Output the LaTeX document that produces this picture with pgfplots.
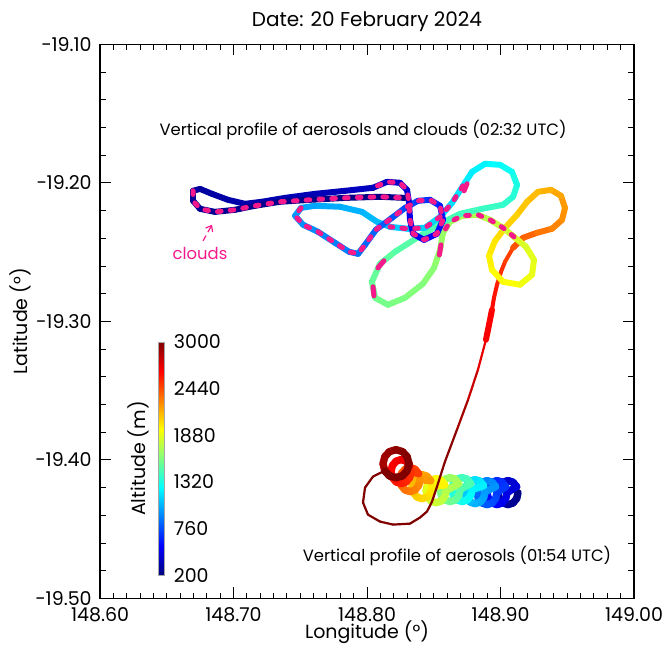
\documentclass[border=0pt]{standalone}
\usepackage{fontspec}
\setmainfont{Poppins}
\usepackage{pgfplots}
\pgfplotsset{compat=1.18}
\usetikzlibrary{arrows.meta}
\definecolor{cloudpink}{RGB}{245,25,140}
\begin{document}
\begin{tikzpicture}[font=\fontsize{9.5}{11}\selectfont]
\begin{axis}[
  scale only axis, width=267pt, height=277pt,
  xmin=148.6, xmax=149, ymin=-19.5, ymax=-19.1,
  xtick={148.6,148.7,148.8,148.9,149.0},
  xticklabels={148.60,148.70,148.80,148.90,149.00},
  ytick={-19.5,-19.4,-19.3,-19.2,-19.1},
  yticklabels={−19.50,−19.40,−19.30,−19.20,−19.10},
  xticklabel style={inner sep=0pt, anchor=center, yshift=-8.3pt},
  yticklabel style={inner sep=0pt, anchor=east, xshift=-4pt},
  minor x tick num=9, minor y tick num=4,
  tick align=inside, major tick length=5.5pt, minor tick length=2.8pt,
  tick style={line width=0.5pt, black},
  axis line style={line width=0.7pt},
  title={Date: 20 February 2024},
  every axis title/.style={at={(axis description cs:0.5,1.0406)}, anchor=center, inner sep=0pt, font=\fontsize{10}{12}\selectfont},
  xlabel={Longitude (°)}, ylabel={Latitude (°)},
  every axis x label/.style={at={(axis description cs:0.5,-0.0610)}, anchor=center, inner sep=0pt},
  every axis y label/.style={at={(axis description cs:-0.1498,0.5)}, rotate=90, anchor=center, inner sep=0pt},
  colormap/jet, point meta min=200, point meta max=3000,
  colorbar,
  colorbar style={
    scale only axis,
    at={(parent axis.south west)}, anchor=south west, xshift=20.7pt, yshift=11.7pt,
    width=3pt, height=116.5pt,
    ytick={200,760,1320,1880,2440,3000},
    yticklabels={200,760,1320,1880,2440,3000},
    yticklabel pos=right,
    yticklabel style={inner sep=0pt, anchor=west, xshift=4.5pt},
    major tick length=0pt,
    axis line style={gray!70, line width=0.3pt},
    every axis y label/.style={at={(axis description cs:-1.5,0.5)}, rotate=90, anchor=south, inner sep=0pt},
    ylabel={Altitude (m)},
  },
]
\coordinate (bbA) at (axis description cs:-0.1873,1.0802);
\coordinate (bbB) at (axis description cs:1.0599,-0.0884);
% spiral (vertical profile of aerosols, 01:54 UTC)
\addplot[mesh, point meta=explicit, line width=3.7pt, line cap=round, line join=round]
 table[x=x, y=y, meta=a] {
x y a
148.9131 -19.4236 200
148.9121 -19.4279 221
148.9094 -19.4311 243
148.9056 -19.4323 264
148.9019 -19.4311 285
148.8991 -19.4279 307
148.8981 -19.4236 328
148.8991 -19.4193 349
148.9019 -19.4161 370
148.9056 -19.4149 392
148.9094 -19.4161 413
148.9121 -19.4193 434
148.9049 -19.4236 456
148.9039 -19.4279 477
148.9012 -19.4311 499
148.8974 -19.4323 520
148.8937 -19.4311 541
148.8909 -19.4279 563
148.8899 -19.4236 584
148.8909 -19.4193 605
148.8937 -19.4161 626
148.8974 -19.4149 648
148.9012 -19.4161 669
148.9039 -19.4193 690
148.8974 -19.4236 711
148.8964 -19.4279 732
148.8937 -19.4311 754
148.8899 -19.4323 775
148.8862 -19.4311 796
148.8834 -19.4279 818
148.8824 -19.4236 839
148.8834 -19.4193 860
148.8862 -19.4161 881
148.8899 -19.4149 903
148.8937 -19.4161 924
148.8964 -19.4193 945
148.8884 -19.4229 967
148.8874 -19.4272 988
148.8847 -19.4304 1010
148.8809 -19.4316 1031
148.8772 -19.4304 1052
148.8744 -19.4272 1074
148.8734 -19.4229 1095
148.8744 -19.4186 1116
148.8772 -19.4154 1137
148.8809 -19.4142 1159
148.8847 -19.4154 1180
148.8874 -19.4186 1201
148.8787 -19.4214 1222
148.8777 -19.4257 1243
148.8750 -19.4289 1265
148.8712 -19.4301 1286
148.8675 -19.4289 1307
148.8647 -19.4257 1329
148.8637 -19.4214 1350
148.8647 -19.4171 1371
148.8675 -19.4139 1392
148.8712 -19.4127 1414
148.8750 -19.4139 1435
148.8777 -19.4171 1456
148.8697 -19.4214 1478
148.8687 -19.4257 1499
148.8660 -19.4289 1521
148.8622 -19.4301 1542
148.8585 -19.4289 1563
148.8557 -19.4257 1585
148.8547 -19.4214 1606
148.8557 -19.4171 1627
148.8585 -19.4139 1648
148.8622 -19.4127 1670
148.8660 -19.4139 1691
148.8687 -19.4171 1712
148.8592 -19.4222 1734
148.8582 -19.4265 1755
148.8555 -19.4297 1777
148.8517 -19.4309 1798
148.8480 -19.4297 1819
148.8452 -19.4265 1841
148.8442 -19.4222 1862
148.8452 -19.4179 1883
148.8480 -19.4147 1904
148.8517 -19.4135 1926
148.8555 -19.4147 1947
148.8582 -19.4179 1968
148.8487 -19.4193 1989
148.8477 -19.4236 2010
148.8450 -19.4268 2032
148.8412 -19.4280 2053
148.8375 -19.4268 2074
148.8347 -19.4236 2096
148.8337 -19.4193 2117
148.8347 -19.4150 2138
148.8375 -19.4118 2159
148.8412 -19.4106 2181
148.8450 -19.4118 2202
148.8477 -19.4150 2223
148.8397 -19.4142 2245
148.8387 -19.4185 2266
148.8360 -19.4217 2288
148.8322 -19.4229 2309
148.8285 -19.4217 2330
148.8257 -19.4185 2352
148.8247 -19.4142 2373
148.8257 -19.4099 2394
148.8285 -19.4067 2415
148.8322 -19.4055 2437
148.8360 -19.4067 2458
148.8387 -19.4099 2479
148.8330 -19.4084 2500
148.8320 -19.4127 2521
148.8293 -19.4159 2543
148.8255 -19.4171 2564
148.8218 -19.4159 2585
148.8190 -19.4127 2607
148.8180 -19.4084 2628
148.8190 -19.4041 2649
148.8218 -19.4009 2670
148.8255 -19.3997 2692
148.8293 -19.4009 2713
148.8320 -19.4041 2734
148.8314 -19.4027 2756
148.8301 -19.4078 2777
148.8266 -19.4115 2799
148.8217 -19.4128 2820
148.8168 -19.4115 2841
148.8133 -19.4078 2863
148.8120 -19.4027 2884
148.8133 -19.3977 2905
148.8168 -19.3940 2926
148.8217 -19.3926 2948
148.8266 -19.3940 2969
148.8301 -19.3977 2990
148.8314 -19.4027 3000
148.8301 -19.4078 3000
148.8266 -19.4115 3000
148.8217 -19.4128 3000
148.8168 -19.4115 3000
148.8133 -19.4078 3000
};
% transit
\addplot[mesh, point meta=explicit, line width=1.1pt, line cap=round, line join=round]
 table[x=x, y=y, meta=a] {
x y a
148.8133 -19.4078 3000
148.8045 -19.4120 3000
148.7985 -19.4200 3000
148.7970 -19.4308 3000
148.8007 -19.4395 3000
148.8097 -19.4445 3000
148.8195 -19.4467 3000
148.8322 -19.4460 3000
148.8397 -19.4416 3000
148.8449 -19.4373 3000
148.8487 -19.4301 3000
148.8524 -19.4193 3000
148.8584 -19.4012 2990
148.8674 -19.3781 2950
148.8757 -19.3565 2850
148.8831 -19.3349 2750
148.8891 -19.3132 2680
};
\addplot[mesh, point meta=explicit, line width=3pt, line cap=round]
 table[x=x, y=y, meta=a] {
x y a
148.8891 -19.3132 2680
148.8914 -19.3024 2660
148.8936 -19.2916 2640
};
\addplot[mesh, point meta=explicit, line width=2pt, line cap=round, line join=round]
 table[x=x, y=y, meta=a] {
x y a
148.8936 -19.2916 2640
148.8951 -19.2829 2610
148.8974 -19.2735 2580
148.9004 -19.2641 2540
148.9034 -19.2569 2500
148.9094 -19.2468 2450
};
% descent (vertical profile of aerosols and clouds, 02:32 UTC)
\addplot[mesh, point meta=explicit, line width=3pt, line cap=round, line join=round]
 table[x=x, y=y, meta=a] {
x y a
148.9094 -19.2468 2450
148.9169 -19.2396 2400
148.9273 -19.2360 2350
148.9386 -19.2331 2300
148.9461 -19.2266 2270
148.9483 -19.2180 2240
148.9453 -19.2093 2210
148.9378 -19.2050 2180
148.9281 -19.2064 2150
148.9199 -19.2136 2120
148.9124 -19.2230 2090
148.9034 -19.2324 2060
148.8959 -19.2418 2030
148.8914 -19.2526 2000
148.8936 -19.2627 1970
148.9019 -19.2714 1950
148.9146 -19.2735 1920
148.9236 -19.2663 1900
148.9251 -19.2555 1880
148.9191 -19.2461 1860
148.9101 -19.2389 1830
148.9019 -19.2324 1800
148.8921 -19.2266 1770
148.8831 -19.2230 1740
148.8712 -19.2237 1720
148.8622 -19.2281 1700
148.8569 -19.2360 1680
148.8547 -19.2483 1660
148.8502 -19.2613 1640
148.8419 -19.2728 1620
148.8285 -19.2829 1600
148.8157 -19.2880 1580
148.8060 -19.2829 1560
148.8037 -19.2714 1540
148.8097 -19.2584 1520
148.8210 -19.2497 1500
148.8375 -19.2396 1480
148.8547 -19.2295 1460
148.8697 -19.2223 1440
148.8861 -19.2187 1420
148.9019 -19.2158 1400
148.9094 -19.2100 1370
148.9124 -19.2014 1340
148.9086 -19.1920 1300
148.8996 -19.1869 1260
148.8884 -19.1862 1230
148.8787 -19.1920 1210
148.8719 -19.2021 1190
148.8637 -19.2144 1170
148.8547 -19.2245 1150
148.8434 -19.2324 1130
148.8307 -19.2331 1110
148.8172 -19.2317 1090
148.8075 -19.2281 1070
148.7963 -19.2209 1050
148.7798 -19.2172 1030
148.7610 -19.2165 1010
148.7506 -19.2180 990
148.7461 -19.2237 970
148.7521 -19.2302 950
148.7633 -19.2353 930
148.7760 -19.2432 910
148.7865 -19.2497 890
148.7933 -19.2512 870
148.7985 -19.2447 850
148.8067 -19.2338 820
148.8187 -19.2252 790
148.8285 -19.2180 760
148.8382 -19.2129 720
148.8472 -19.2122 680
148.8547 -19.2165 640
148.8569 -19.2266 600
148.8524 -19.2367 560
148.8427 -19.2411 530
148.8345 -19.2367 500
148.8322 -19.2266 480
148.8315 -19.2144 460
148.8300 -19.2050 440
148.8247 -19.1999 420
148.8150 -19.1992 400
148.8045 -19.2035 380
148.7835 -19.2057 360
148.7610 -19.2079 350
148.7386 -19.2108 340
148.7213 -19.2136 330
148.7086 -19.2151 320
148.6959 -19.2122 310
148.6839 -19.2079 300
148.6749 -19.2043 290
148.6697 -19.2057 280
148.6697 -19.2129 270
148.6749 -19.2187 260
148.6861 -19.2209 250
148.7011 -19.2194 240
148.7161 -19.2165 235
148.7348 -19.2136 230
148.7573 -19.2122 225
148.7835 -19.2108 220
148.8097 -19.2100 215
148.8285 -19.2108 210
};
% clouds (dashed overlay)
\pgfplotsset{cloudline/.style={cloudpink, line width=2.5pt, line cap=round, line join=round, dash pattern=on 1.8pt off 4.6pt}}
\addplot[cloudline] coordinates {
(148.9101,-19.2389) (148.9019,-19.2324) (148.8921,-19.2266) (148.8831,-19.2230)
(148.8712,-19.2237) (148.8622,-19.2281) (148.8569,-19.2360)};
\addplot[cloudpink, line width=2.5pt, line cap=round] coordinates {(148.8554,-19.2447) (148.8542,-19.2520)};
\addplot[cloudpink, line width=2.5pt, line cap=round] coordinates {(148.8127,-19.2562) (148.8082,-19.2613)};
\addplot[cloudpink, line width=2.5pt, line cap=round] coordinates {(148.8045,-19.2750) (148.8052,-19.2815)};
\addplot[cloudpink, line width=2.5pt, line cap=round] coordinates {(148.8749,-19.2006) (148.8727,-19.2057)};
\addplot[cloudline] coordinates {
(148.8719,-19.2021) (148.8637,-19.2144) (148.8547,-19.2245) (148.8434,-19.2324)
(148.8307,-19.2331) (148.8172,-19.2317)};
\addplot[cloudline] coordinates {
(148.7506,-19.2180) (148.7461,-19.2237) (148.7521,-19.2302) (148.7633,-19.2353)
(148.7760,-19.2432) (148.7865,-19.2497) (148.7933,-19.2512) (148.7985,-19.2447)
(148.8067,-19.2338) (148.8187,-19.2252) (148.8285,-19.2180) (148.8382,-19.2129)
(148.8472,-19.2122) (148.8547,-19.2165) (148.8569,-19.2266) (148.8524,-19.2367)
(148.8427,-19.2411) (148.8345,-19.2367) (148.8322,-19.2266) (148.8315,-19.2144)
(148.8300,-19.2050) (148.8247,-19.1999) (148.8150,-19.1992) (148.8045,-19.2035)};
\addplot[cloudline] coordinates {
(148.6697,-19.2057) (148.6697,-19.2129) (148.6749,-19.2187) (148.6861,-19.2209)
(148.7011,-19.2194) (148.7161,-19.2165) (148.7348,-19.2136) (148.7573,-19.2122)
(148.7835,-19.2108) (148.8097,-19.2100) (148.8285,-19.2108)};
% annotations
\node[font=\fontsize{8.2}{10}\selectfont] at (axis cs:148.797,-19.1617) {Vertical profile of aerosols and clouds (02:32 UTC)};
\node[font=\fontsize{8.2}{10}\selectfont] at (axis cs:148.8674,-19.4690) {Vertical profile of aerosols (01:54 UTC)};
\node[font=\fontsize{8.2}{10}\selectfont, text=cloudpink] at (axis cs:148.6749,-19.2512) {clouds};
\draw[cloudpink, line width=0.6pt, dash pattern=on 3pt off 2pt, -{Straight Barb[length=2.5pt,width=4pt]}]
  (axis cs:148.6772,-19.2418) -- (axis cs:148.6839,-19.2302);
\end{axis}
\path (bbA) rectangle (bbB);
\end{tikzpicture}
\end{document}
